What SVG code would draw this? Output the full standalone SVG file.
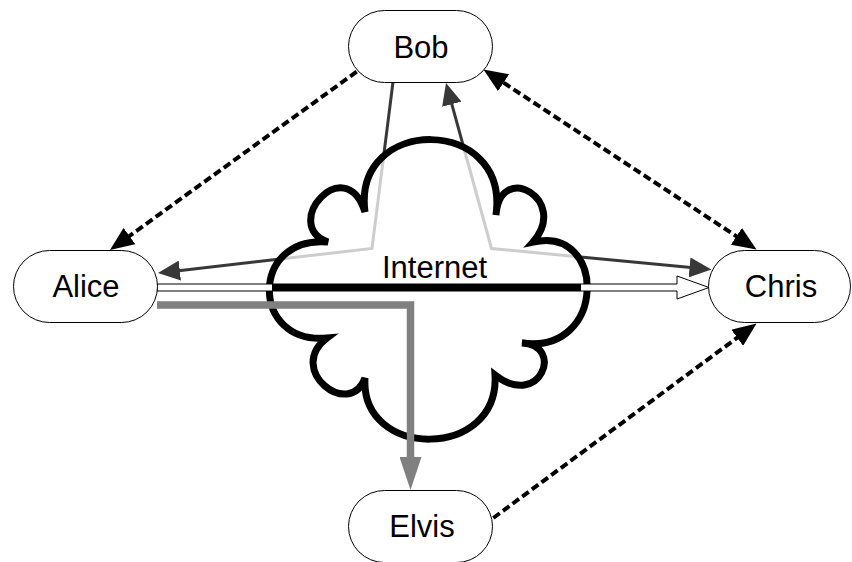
<svg xmlns="http://www.w3.org/2000/svg" width="852" height="562" viewBox="0 0 852 562">
<style>
.node rect{fill:#fff;stroke:#000;stroke-width:1}
.lbl{font-family:"Liberation Sans",Arial,sans-serif;font-size:31px;fill:#000;text-anchor:middle}
.dark{fill:none;stroke:#383838;stroke-width:3}
.dash{fill:none;stroke:#000;stroke-width:4;stroke-dasharray:8 4}
</style>
<defs>
<marker id="mDark" viewBox="0 0 22 20" markerUnits="userSpaceOnUse" markerWidth="22" markerHeight="20" refX="12" refY="10" orient="auto-start-reverse">
<path d="M0,0 L22,10 L0,20 z" fill="#383838"/>
</marker>
<marker id="mDash" viewBox="0 0 24 20" markerUnits="userSpaceOnUse" markerWidth="24" markerHeight="20" refX="12" refY="10" orient="auto-start-reverse">
<path d="M0,0 L24,10 L0,20 z" fill="#000"/>
</marker>
<marker id="mGray" viewBox="0 0 33 22" markerUnits="userSpaceOnUse" markerWidth="33" markerHeight="22" refX="5" refY="11" orient="auto">
<path d="M0,0 L33,11 L0,22 z" fill="#808080"/>
</marker>
</defs>

<g id="connectors-back">
<path class="dark" d="M393,82 L372,248.5 L167.9,271.9" marker-end="url(#mDark)"/>
<path class="dark" d="M448.65,92.64 L491.5,248.5 L701.5,268.55" marker-start="url(#mDark)" marker-end="url(#mDark)"/>
</g>

<g id="internet">
<path d="M365,212 C352,115 510,115 496,215 C500,160 570,200 533,242 C607,225 607,355 522,343 C565,345 540,410 495,375 C500,460 360,460 365,378 C350,420 285,370 327,338 C250,345 250,235 328,242 C280,225 345,150 365,212 Z" fill="#fff" fill-opacity="0.75" stroke="#000" stroke-width="7" stroke-linejoin="miter" stroke-miterlimit="4"/>
</g>

<g id="connectors">
<polygon points="157,284 677,284 677,276 709,287.5 677,299 677,291 157,291" fill="#fff" stroke="#000" stroke-width="1"/>
<line x1="272" y1="287.5" x2="581" y2="287.5" stroke="#000" stroke-width="7"/>
<path d="M157,305 H410.5 V462" fill="none" stroke="#808080" stroke-width="7.5" marker-end="url(#mGray)"/>
<path class="dash" d="M356.7,71.7 L119.7,243" marker-end="url(#mDash)"/>
<path class="dash" d="M493.5,76.1 L746.5,242.9" marker-start="url(#mDash)" marker-end="url(#mDash)"/>
<path class="dash" d="M493.3,518 L746.85,330.6" marker-end="url(#mDash)"/>
</g>

<g id="bob" class="node"><rect x="348.5" y="10.5" width="144" height="72" rx="36"/><text class="lbl" x="421" y="58">Bob</text></g>
<g id="alice" class="node"><rect x="13.5" y="250.5" width="144" height="72" rx="36"/><text class="lbl" x="86" y="297">Alice</text></g>
<g id="chris" class="node"><rect x="708.5" y="250.5" width="142" height="72" rx="36"/><text class="lbl" x="781" y="297">Chris</text></g>
<g id="elvis" class="node"><rect x="348.5" y="490.5" width="144" height="72" rx="36"/><text class="lbl" x="422" y="537">Elvis</text></g>
<text id="internet-label" class="lbl" x="434.5" y="278">Internet</text>
</svg>
